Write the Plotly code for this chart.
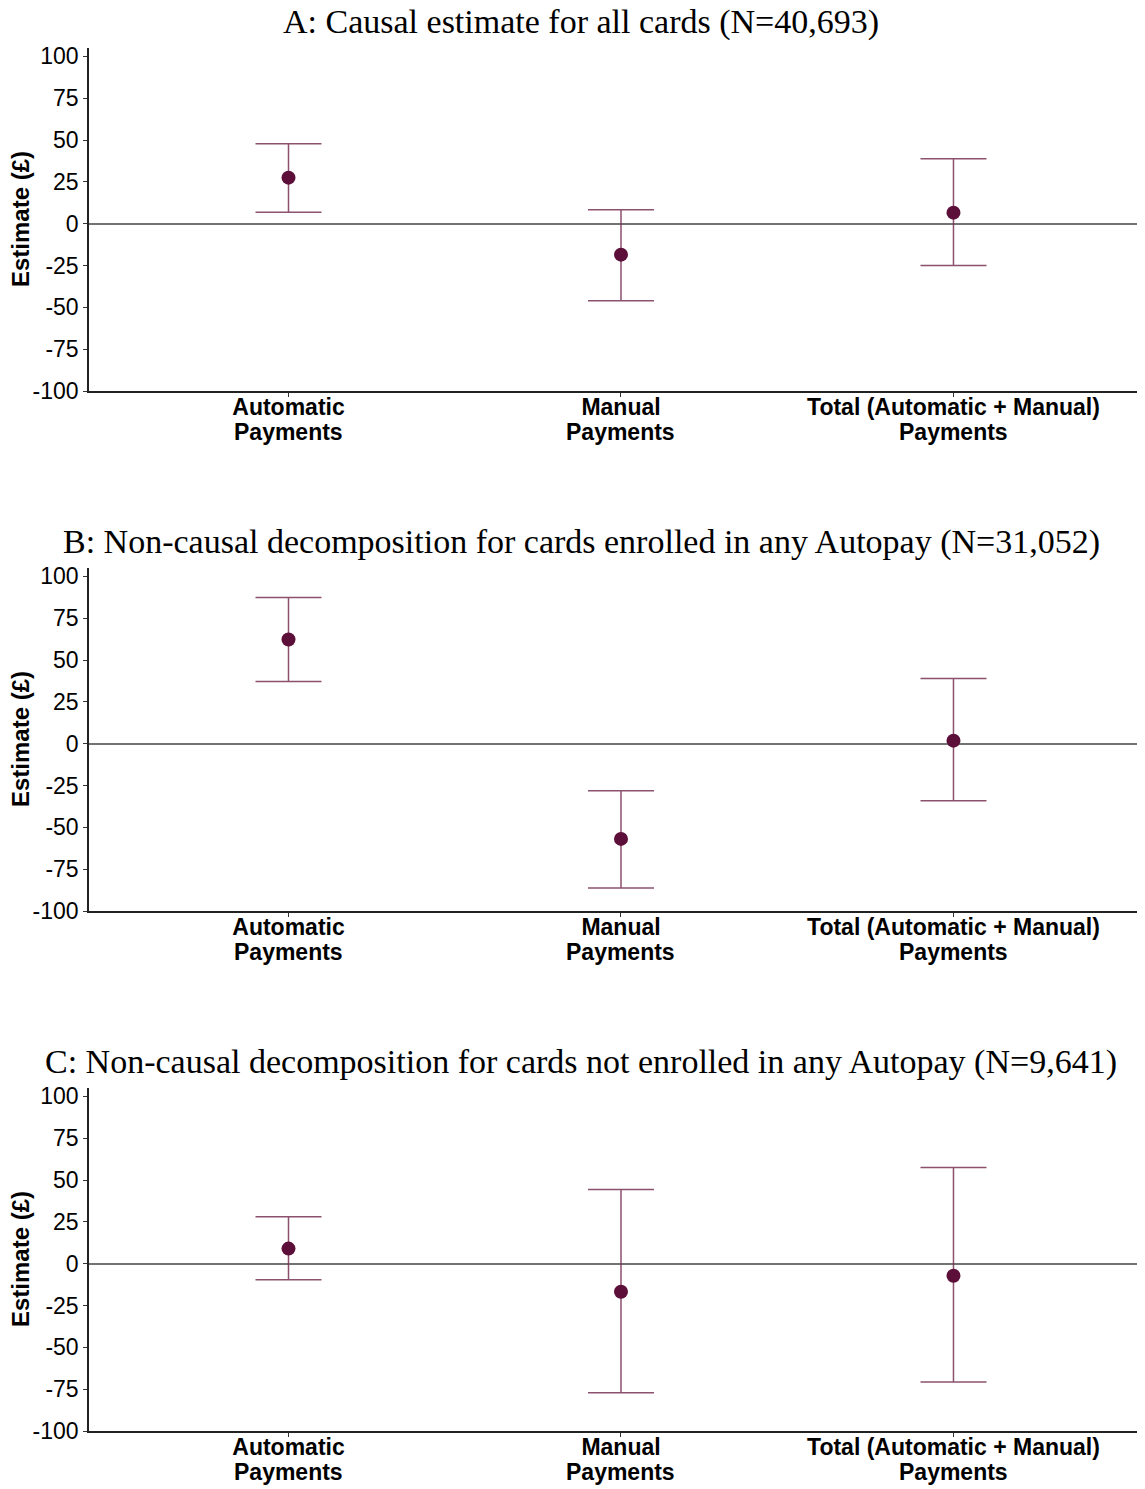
import plotly.graph_objects as go

categories = ["Automatic", "Manual", "Total (Automatic + Manual)"]
category_line2 = ["Payments", "Payments", "Payments"]
panel_titles = ["A: Causal estimate for all cards (N=40,693)",
                "B: Non-causal decomposition for cards enrolled in any Autopay (N=31,052)",
                "C: Non-causal decomposition for cards not enrolled in any Autopay (N=9,641)"]
est_A = [27.5, -18.5, 6.6]
hi_A = [47.8, 8.4, 38.8]
lo_A = [6.8, -46.0, -25.0]
est_B = [62.3, -56.9, 1.8]
hi_B = [87.4, -28.1, 38.9]
lo_B = [37.1, -86.2, -34.1]
est_C = [9.0, -16.8, -7.2]
hi_C = [28.1, 44.3, 57.5]
lo_C = [-9.6, -77.2, -70.7]
yticks = [-100, -75, -50, -25, 0, 25, 50, 75, 100]

OFF = 8  # browser body margin
W, H = 1145 - OFF, 1489 - OFF
panels = [(est_A, hi_A, lo_A), (est_B, hi_B, lo_B), (est_C, hi_C, lo_C)]
tops = [48, 568, 1088]
bottoms = [391, 911, 1431]


def px(x):
    return (x - OFF) / W


def py(y):
    return 1 - (y - OFF) / H


LABEL_FONT = dict(family="Liberation Sans, Arial", size=23, color="black")

fig = go.Figure()
xs = [0, 1, 2]
for i, (est, hi, lo) in enumerate(panels):
    n = "" if i == 0 else str(i + 1)
    fig.add_trace(go.Scatter(
        x=xs, y=est, mode="markers",
        marker=dict(color="#5C0F38", size=14),
        error_y=dict(type="data", symmetric=False,
                     array=[h - e for h, e in zip(hi, est)],
                     arrayminus=[e - l for e, l in zip(est, lo)],
                     color="rgba(120,50,85,0.85)", thickness=1.5, width=33),
        xaxis="x" + n, yaxis="y" + n, showlegend=False, cliponaxis=False))
    fig.layout["xaxis" + n] = dict(
        domain=[px(89), 1], range=[-0.6, 2.576], anchor="y" + n,
        tickmode="array", tickvals=xs, ticktext=["<b>%s</b>" % c for c in categories],
        showline=True, linecolor="#222222", linewidth=1.5,
        ticks="outside", ticklen=4, tickcolor="#333333",
        tickfont=LABEL_FONT,
        ticklabelstandoff=-9,
        showgrid=False, zeroline=False, automargin=False)
    fig.layout["yaxis" + n] = dict(
        domain=[py(bottoms[i]), py(tops[i])], range=[-100, 105], anchor="x" + n,
        tickmode="array", tickvals=yticks, ticktext=[str(v) for v in yticks],
        showline=True, linecolor="#222222", linewidth=1.5,
        ticks="outside", ticklen=4, tickcolor="#333333",
        tickfont=LABEL_FONT,
        showgrid=False, zeroline=True, zerolinecolor="#737373", zerolinewidth=2,
        automargin=False)
    for xv, t in zip(xs, category_line2):
        fig.add_annotation(xref="x" + n, yref="paper", x=xv, y=py(bottoms[i] + 41),
                           text="<b>%s</b>" % t, showarrow=False, font=LABEL_FONT,
                           xanchor="center", yanchor="middle")
    fig.add_annotation(xref="paper", yref="paper", x=px(20), y=py(tops[i] + 171),
                       text="<b>Estimate (£)</b>", textangle=-90, showarrow=False,
                       font=dict(family="Liberation Sans, Arial", size=24, color="black"),
                       xanchor="center", yanchor="middle")
    fig.add_annotation(xref="paper", yref="paper", x=px(581), y=py(tops[i] - 26),
                       text=panel_titles[i], showarrow=False, borderpad=0,
                       font=dict(family="Liberation Serif, DejaVu Serif", size=34, color="black"),
                       xanchor="center", yanchor="middle")

fig.update_layout(width=W, height=H, margin=dict(l=0, r=0, t=0, b=0),
                  plot_bgcolor="white", paper_bgcolor="white")
fig.write_html("out.html")
